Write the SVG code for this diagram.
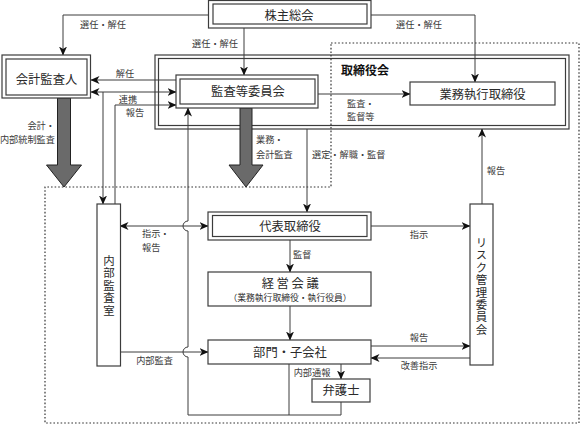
<svg xmlns="http://www.w3.org/2000/svg" width="580" height="425" viewBox="0 0 580 425">
<style>
text{font-family:"Noto Sans CJK JP","Noto Sans",sans-serif;fill:#2a2a2a}
.m{font-size:12.3px;text-anchor:middle}
.v{font-size:11.4px;text-anchor:middle;writing-mode:vertical-rl;letter-spacing:1px}
.l{font-size:9.2px;fill:#3a3a3a}
.c{text-anchor:middle}
.e{text-anchor:end}
.box{fill:#fff;stroke:#3c3c3c;stroke-width:1.2}
.ln{fill:none;stroke:#3c3c3c;stroke-width:1}
.big{fill:#6a6a6a;stroke:#222;stroke-width:1}
.dot{fill:none;stroke:#333;stroke-width:1.2;stroke-dasharray:1.6,2}
</style>
<defs>
<marker id="ah" markerUnits="userSpaceOnUse" markerWidth="9" markerHeight="8" refX="8.5" refY="4" orient="auto-start-reverse" viewBox="0 0 9 8">
<path d="M0,0 L9,4 L0,8 L2.5,4 Z" fill="#111"/>
</marker>
</defs>

<g id="torishimariyakukai">
<rect class="box" x="155" y="55" width="414" height="74"/>
<rect class="box" x="158.5" y="58.5" width="407" height="67"/>
<text x="365" y="74.5" style="font-size:12px;font-weight:bold;text-anchor:middle;fill:#111">取締役会</text>
</g>

<polygon class="dot" points="331,43 579,43 579,423 45,423 45,187 331,187"/>

<g id="connectors">
<path class="ln" d="M208,15 H63 V55" marker-end="url(#ah)"/>
<path class="ln" d="M244,28 V75" marker-end="url(#ah)"/>
<path class="ln" d="M371,15 H475 V82" marker-end="url(#ah)"/>
<path class="ln" d="M176,80 H91" marker-end="url(#ah)"/>
<path class="ln" d="M91,92 H176" marker-start="url(#ah)" marker-end="url(#ah)"/>
<path class="ln" d="M103,92 V204" marker-end="url(#ah)"/>
<path class="ln" d="M115,204 V105 H176" marker-end="url(#ah)"/>
<path class="ln" d="M318,94 H410" marker-end="url(#ah)"/>
<path class="ln" d="M307,129 V212" marker-end="url(#ah)"/>
<path class="ln" d="M482,204 V129" marker-end="url(#ah)"/>
<path class="ln" d="M208,226 H120" marker-start="url(#ah)" marker-end="url(#ah)"/>
<path class="ln" d="M371,226 H470" marker-end="url(#ah)"/>
<path class="ln" d="M290,240 V272" marker-end="url(#ah)"/>
<path class="ln" d="M290,306 V340" marker-end="url(#ah)"/>
<path class="ln" d="M120,352 H208" marker-end="url(#ah)"/>
<path class="ln" d="M371,346 H470" marker-end="url(#ah)"/>
<path class="ln" d="M470,358 H371" marker-end="url(#ah)"/>
<path class="ln" d="M341,364 V379" marker-end="url(#ah)"/>
<path class="ln" d="M289,364 V415"/>
<path class="ln" d="M341,402 V415 H188 V357 A5,5 0 0 1 188,347 V231 A5,5 0 0 1 188,221 V108" marker-end="url(#ah)"/>
<polygon class="big" points="57.5,98 70.5,98 70.5,165 81.5,165 64,187 46.5,165 57.5,165"/>
<polygon class="big" points="240,108 252,108 252,165 263,165 246,187 229,165 240,165"/>
</g>

<g id="labels">
<text class="l c" x="103" y="28">選任・解任</text>
<text class="l c" x="215" y="46.5">選任・解任</text>
<text class="l c" x="419" y="28">選任・解任</text>
<text class="l c" x="125" y="77">解任</text>
<text class="l c" x="128" y="102.5">連携</text>
<text class="l c" x="135" y="115.5">報告</text>
<text class="l e" x="55" y="129">会計・</text>
<text class="l e" x="55" y="143">内部統制監査</text>
<text class="l" x="256" y="142.5">業務・</text>
<text class="l" x="256" y="157.5">会計監査</text>
<text class="l" x="347" y="106.5">監査・</text>
<text class="l" x="347" y="119.5">監督等</text>
<text class="l" x="312" y="157.5">選定・解職・監督</text>
<text class="l c" x="496" y="173.5">報告</text>
<text class="l" x="142" y="236.5">指示・</text>
<text class="l" x="142" y="250.5">報告</text>
<text class="l c" x="419" y="237.5">指示</text>
<text class="l" x="293" y="257.5">監督</text>
<text class="l c" x="154.5" y="363.5">内部監査</text>
<text class="l c" x="419" y="340.5">報告</text>
<text class="l c" x="419" y="368.5">改善指示</text>
<text class="l c" x="312" y="375.5">内部通報</text>
</g>

<g id="kabunushi">
<rect class="box" x="208.5" y="0.5" width="162.5" height="27.5"/>
<rect class="box" x="213" y="4" width="154" height="20"/>
<text class="m" x="289" y="19.5">株主総会</text>
</g>

<g id="kaikeikansanin">
<rect class="box" x="2" y="55" width="88.5" height="43"/>
<rect class="box" x="6" y="59" width="81" height="36"/>
<text class="m" x="46.5" y="83.5">会計監査人</text>
</g>

<g id="kansatouiinkai">
<rect class="box" x="176" y="75" width="142" height="33"/>
<rect class="box" x="180" y="79" width="135" height="25"/>
<text class="m" x="248" y="96">監査等委員会</text>
</g>

<g id="gyoumushikkou">
<rect class="box" x="410" y="82" width="145" height="23"/>
<text class="m" x="482.5" y="98.5">業務執行取締役</text>
</g>

<g id="naibukansashitsu">
<rect class="box" x="97" y="204" width="23.5" height="162"/>
<text class="v" x="109" y="286">内部監査室</text>
</g>

<g id="daihyou">
<rect class="box" x="208" y="212" width="163" height="28"/>
<rect class="box" x="212.5" y="215.5" width="154.5" height="21"/>
<text class="m" x="290" y="230.5">代表取締役</text>
</g>

<g id="keieikaigi">
<rect class="box" x="208" y="272" width="163" height="34"/>
<text class="m" x="291.5" y="287.5" style="letter-spacing:2.6px">経営会議</text>
<text x="290" y="300.5" style="font-size:8.8px;text-anchor:middle">（業務執行取締役・執行役員）</text>
</g>

<g id="bumon">
<rect class="box" x="208" y="340" width="163" height="24"/>
<text class="m" x="290" y="356.5">部門・子会社</text>
</g>

<g id="bengoshi">
<rect class="box" x="312" y="379" width="58" height="23"/>
<text class="m" x="341" y="395">弁護士</text>
</g>

<g id="risk">
<rect class="box" x="470" y="204" width="23" height="161"/>
<text class="v" x="481.5" y="286.5">リスク管理委員会</text>
</g>
</svg>
